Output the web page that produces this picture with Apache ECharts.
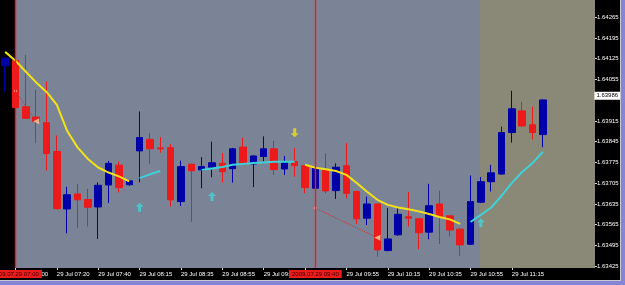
<!DOCTYPE html>
<html>
<head>
<meta charset="utf-8">
<script src="https://cdn.jsdelivr.net/npm/echarts@6/dist/echarts.min.js"></script>
<style>
  html, body { margin: 0; padding: 0; background: #000; }
  #main { width: 625px; height: 285px; }
</style>
</head>
<body>
<div id="main"></div>
<script>
// 5 min bars, 29 Jul 2009
var times = ['06:55','07:00','07:05','07:10','07:15','07:20','07:25','07:30','07:35','07:40',
  '07:45','07:50','07:55','08:15','08:20','08:25','08:30','08:35','08:40','08:45',
  '08:50','08:55','09:00','09:05','09:10','09:15','09:20','09:25','09:30','09:35',
  '09:40','09:45','09:50','09:55','10:00','10:05','10:10','10:15','10:20','10:25',
  '10:30','10:35','10:40','10:45','10:50','10:55','11:00','11:05','11:10','11:15',
  '11:20','11:25','11:30'];
// empty slots on the right (chart shift)
var emptySlots = ['11:35','11:40','11:45','11:50'];

var opens = [1.64101,1.64119,1.63963,1.63928,1.63909,1.63812,1.63618,1.63669,1.63650,1.63625,
  1.63699,1.63766,1.63700,1.63814,1.63853,1.63824,1.63825,1.63643,1.63769,1.63750,
  1.63759,1.63772,1.63754,1.63827,1.63770,1.63795,1.63821,1.63753,1.63778,1.63764,
  1.63688,1.63750,1.63680,1.63764,1.63677,1.63587,1.63635,1.63478,1.63531,1.63592,
  1.63585,1.63540,1.63635,1.63595,1.63550,1.63499,1.63641,1.63710,1.63736,1.63876,
  1.63949,1.63902,1.63869];
var closes = [1.64127,1.63960,1.63924,1.63913,1.63805,1.63619,1.63666,1.63649,1.63624,1.63698,
  1.63772,1.63690,1.63713,1.63859,1.63821,1.63821,1.63649,1.63761,1.63747,1.63761,
  1.63774,1.63744,1.63821,1.63769,1.63797,1.63821,1.63751,1.63774,1.63764,1.63690,
  1.63756,1.63679,1.63759,1.63671,1.63585,1.63635,1.63480,1.63517,1.63600,1.63587,
  1.63538,1.63629,1.63592,1.63547,1.63497,1.63643,1.63710,1.63740,1.63876,1.63956,
  1.63898,1.63876,1.63986];
var lows = [1.64014,1.63958,1.63922,1.63840,1.63748,1.63617,1.63536,1.63553,1.63559,1.63517,
  1.63638,1.63674,1.63696,1.63708,1.63769,1.63808,1.63626,1.63628,1.63575,1.63688,
  1.63725,1.63707,1.63707,1.63766,1.63692,1.63778,1.63733,1.63733,1.63727,1.63671,
  1.63682,1.63671,1.63652,1.63654,1.63567,1.63564,1.63457,1.63475,1.63528,1.63559,
  1.63482,1.63516,1.63500,1.63525,1.63460,1.63497,1.63638,1.63677,1.63734,1.63842,
  1.63896,1.63853,1.63826];
var highs = [1.64130,1.64121,1.64138,1.64020,1.64048,1.63866,1.63693,1.63703,1.63686,1.63708,
  1.63780,1.63778,1.63716,1.63947,1.63874,1.63860,1.63837,1.63781,1.63772,1.63793,
  1.63845,1.63807,1.63824,1.63859,1.63799,1.63863,1.63848,1.63797,1.63823,1.63766,
  1.63760,1.63806,1.63772,1.63840,1.63680,1.63660,1.63638,1.63621,1.63624,1.63675,
  1.63587,1.63703,1.63680,1.63597,1.63552,1.63731,1.63726,1.63767,1.63896,1.64017,
  1.63980,1.63963,1.63988];

// moving average, yellow = falling part, cyan = rising part
var maDown = [1.64148,1.64118,1.64081,1.64045,1.64013,1.63969,1.63881,1.63826,1.63787,1.63758,
  1.63741,1.63728,1.63711,null,null,null,null,null,null,null,
  null,null,null,null,null,null,null,null,null,1.63767,
  1.63757,1.63752,1.63746,1.63733,1.63706,1.63676,1.63649,1.63632,1.63623,1.63617,
  1.63610,1.63601,1.63591,1.63583,1.63568,null,null,null,null,null,
  null,null,null];
var maUp = [null,null,null,null,null,null,null,null,null,null,
  null,null,null,1.63722,1.63735,1.63746,null,null,null,1.63750,
  1.63755,1.63760,1.63767,1.63770,1.63773,1.63775,1.63777,1.63777,1.63777,null,
  null,null,null,null,null,null,null,null,null,null,
  null,null,null,null,null,1.63574,1.63598,1.63623,1.63662,1.63706,
  1.63743,1.63773,1.63811];

// signal arrows
var buyArrows = {13: 1.63624, 20: 1.63660, 46: 1.63572};
var sellArrows = {28: 1.63875};

// dotted trend lines [startIndex, startPrice, endIndex, endPrice]
var trendA = [1, 1.64016, 3, 1.63914];
var trendB = [30, 1.63621, 36, 1.63521];

var yTicks = [1.63425,1.63495,1.63565,1.63635,1.63705,1.63775,1.63845,1.63915,1.64055,1.64125,1.64195,1.64265];
var lastPrice = 1.63986;
var vLines = ['07:00', '09:40'];

var cats = times.concat(emptySlots);
var candles = opens.map(function (o, i) { return [o, closes[i], lows[i], highs[i]]; });

function pointsFrom(obj) {
  return cats.map(function (c, i) { return obj[i] !== undefined ? obj[i] : null; });
}
function trendData(t) {
  var d = cats.map(function () { return null; });
  d[t[0]] = { value: t[1], symbol: 'diamond', symbolSize: 4, itemStyle: { color: '#ff9a9a' } };
  d[t[2]] = { value: t[3], symbol: 'triangle', symbolSize: 6, symbolRotate: 90, itemStyle: { color: '#f2b48a' } };
  return d;
}

var font = 'Liberation Sans';
var chart = echarts.init(document.getElementById('main'));

var option = {
  backgroundColor: '#000000',
  animation: false,
  graphic: [
    { type: 'rect', z: -10, shape: { x: 15, y: 0, width: 465, height: 268 }, style: { fill: '#7b8496' } },
    { type: 'rect', z: -10, shape: { x: 480, y: 0, width: 115, height: 268 }, style: { fill: '#8a8977' } },
    { type: 'rect', z: 10, shape: { x: 620, y: 0, width: 1, height: 281 }, style: { fill: '#c8c8d0' } },
    { type: 'rect', z: 10, shape: { x: 621, y: 0, width: 4, height: 285 }, style: { fill: '#8585d6' } },
    { type: 'rect', z: 10, shape: { x: 0, y: 280, width: 621, height: 1 }, style: { fill: '#c8c8d0' } },
    { type: 'rect', z: 10, shape: { x: 0, y: 281, width: 625, height: 4 }, style: { fill: '#8585d6' } }
  ],
  grid: { left: 0, right: 35.6, top: 0, bottom: 17, containLabel: false, outerBoundsMode: 'none' },
  xAxis: [{
    type: 'category',
    data: cats,
    boundaryGap: true,
    z: 1,
    axisLine: { show: false },
    axisTick: {
      show: true, alignWithLabel: true, length: 2,
      interval: function (i) { return i % 4 === 1 && i < times.length; },
      lineStyle: { color: '#d8d8d8' }
    },
    axisLabel: {
      interval: function (i) { return i % 4 === 1 && i < times.length; },
      formatter: function (v) { return '29 Jul ' + v; },
      color: '#ffffff', fontFamily: font, fontSize: 6, align: 'left', margin: 3
    },
    splitLine: { show: false }
  }, {
    type: 'category',
    data: cats,
    boundaryGap: true,
    position: 'bottom',
    z: 5,
    axisLine: { show: false },
    axisTick: { show: false },
    axisLabel: {
      interval: function (i, v) { return vLines.indexOf(v) >= 0; },
      formatter: function (v) { return '2009.07.29 ' + v; },
      color: '#3a0000', backgroundColor: '#ec1c1c', padding: [1, 3, 1, 3],
      fontFamily: font, fontSize: 6, margin: 2
    },
    splitLine: { show: false }
  }],
  yAxis: {
    type: 'value',
    position: 'right',
    offset: 5.6,
    min: 1.63419,
    max: 1.64323,
    axisLine: { show: false },
    splitLine: { show: false },
    axisTick: { show: true, length: 2, customValues: yTicks, lineStyle: { color: '#d8d8d8' } },
    axisLabel: {
      customValues: yTicks,
      formatter: function (v) { return v.toFixed(5); },
      color: '#ffffff', fontFamily: font, fontSize: 6, margin: 2
    }
  },
  series: [{
    type: 'candlestick',
    data: candles,
    barWidth: 7,
    z: 2,
    itemStyle: {
      color: '#0000a8', color0: '#ec1a1a',
      borderColor: '#0000a8', borderColor0: '#ec1a1a', borderWidth: 1
    }
  }, {
    // period separators (red vertical lines)
    type: 'line', data: [], z: 5,
    markLine: {
      silent: true,
      symbol: ['none', 'none'],
      label: { show: false },
      lineStyle: { color: '#ff1414', width: 1.4, type: 'solid', opacity: 1 },
      data: vLines.map(function (t) { return { xAxis: t }; })
    }
  }, {
    // current price box on the price scale
    type: 'line', data: [], z: 6,
    markLine: {
      silent: true,
      symbol: ['none', 'none'],
      lineStyle: { color: 'rgba(0,0,0,0)', width: 0 },
      label: {
        show: true, position: 'end', distance: 5,
        formatter: function () { return lastPrice.toFixed(5); },
        color: '#000000', backgroundColor: '#ffffff', padding: [1, 2, 1, 2],
        fontFamily: font, fontSize: 6
      },
      data: [{ yAxis: lastPrice }]
    }
  }, {
    type: 'line', data: maDown, showSymbol: false, connectNulls: false, z: 3,
    lineStyle: { color: '#f2e21a', width: 2 }
  }, {
    type: 'line', data: maUp, showSymbol: false, connectNulls: false, z: 3,
    lineStyle: { color: '#3ed2d8', width: 2 }
  }, {
    type: 'line', data: trendData(trendA), connectNulls: true, z: 3,
    lineStyle: { color: '#cc3030', width: 1, type: 'dotted' }
  }, {
    type: 'line', data: trendData(trendB), connectNulls: true, z: 3,
    lineStyle: { color: '#cc3030', width: 1, type: 'dotted' }
  }, {
    type: 'scatter', data: pointsFrom(buyArrows), z: 4,
    symbol: 'path://M4,0 L8,4 L5.5,4 L5.5,9 L2.5,9 L2.5,4 L0,4 Z',
    symbolSize: [8, 9],
    itemStyle: { color: '#40d6d8' }
  }, {
    type: 'scatter', data: pointsFrom(sellArrows), z: 4,
    symbol: 'path://M2.5,0 L5.5,0 L5.5,5 L8,5 L4,9 L0,5 L2.5,5 Z',
    symbolSize: [8, 9],
    itemStyle: { color: '#f2e01a' }
  }]
};

chart.setOption(option);
</script>
</body>
</html>
